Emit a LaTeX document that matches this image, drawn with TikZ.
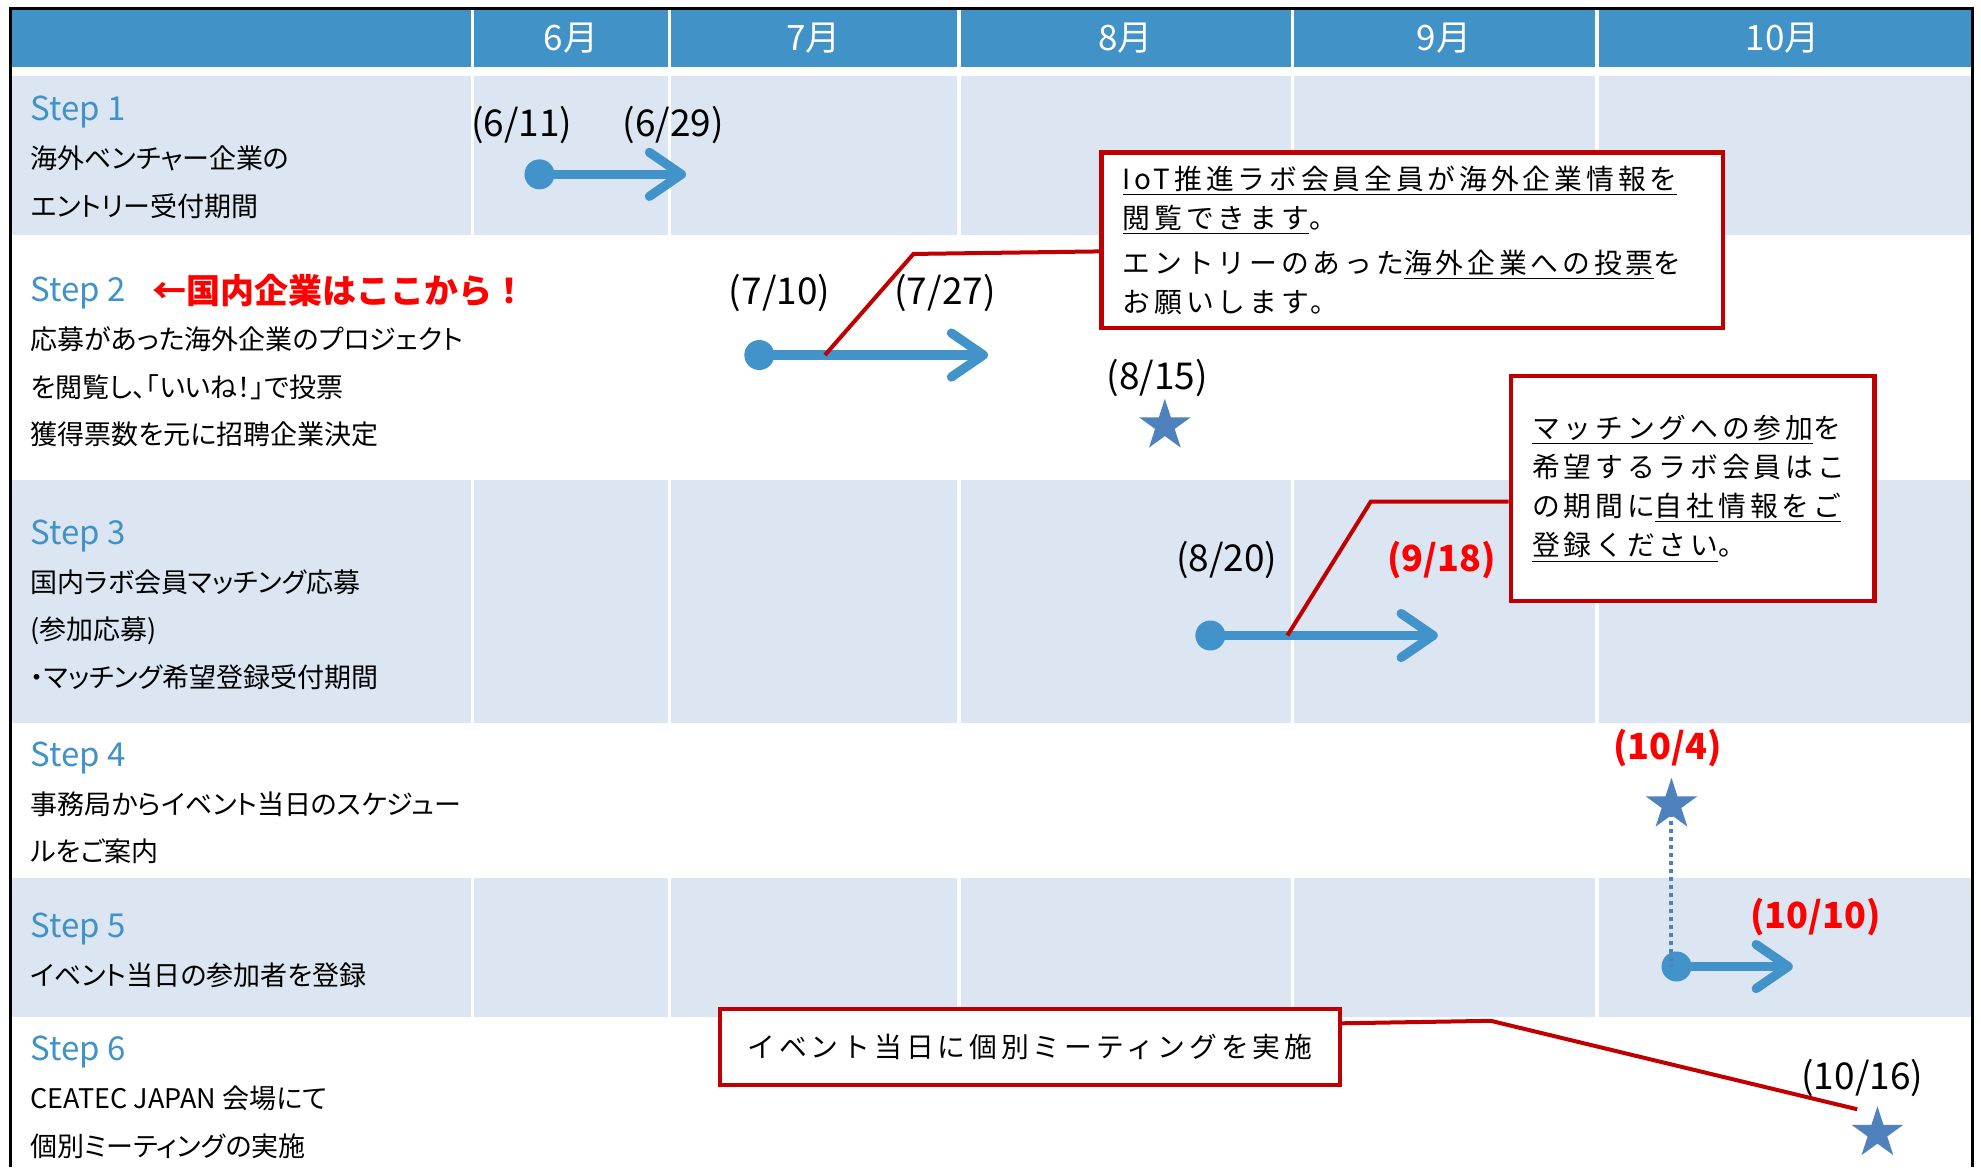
\documentclass[tikz,border=0pt]{standalone}
\usepackage{fontspec}
\setmainfont{Noto Sans CJK JP}
\newfontfamily\bodyjp{Noto Sans CJK JP}[RawFeature=+palt]
\newfontfamily\boxjp{Noto Sans CJK JP}[LetterSpace=14]
\usepackage{tikz}
\usetikzlibrary{positioning,arrows.meta,shapes.geometric}

\definecolor{hdrblue}{RGB}{65,146,199}
\definecolor{rowblue}{RGB}{220,230,242}
\definecolor{arrblue}{RGB}{65,147,201}
\definecolor{starblue}{RGB}{79,129,189}
\definecolor{boxred}{RGB}{192,0,0}
\definecolor{txtred}{RGB}{255,0,0}
\newcommand{\steplbl}[1]{{\color{hdrblue}\fontsize{16.5pt}{23.8pt}\selectfont #1}}

\begin{document}
\begin{tikzpicture}[x=0.6317pt,y=-0.6317pt,
	month/.style={text=white,inner sep=0pt,font=\fontsize{17.5pt}{19pt}\selectfont},
	stepbox/.style={anchor=base west,align=left,inner sep=0pt,font=\bodyjp\fontsize{13.5pt}{23.8pt}\selectfont},
	date/.style={inner sep=0pt,font=\fontsize{18.5pt}{20pt}\selectfont},
	reddate/.style={inner sep=0pt,text=txtred,font=\bfseries\fontsize{18pt}{20pt}\selectfont},
	dotmark/.style={circle,fill=arrblue,minimum size=15pt,inner sep=0pt},
	period/.style={draw=arrblue,line width=4.6pt,-{Straight Barb[length=16pt,width=22pt,round]}},
	event/.style={star,star points=5,star point ratio=2.618,fill=starblue,minimum size=27pt,inner sep=0pt},
	callout/.style={draw=boxred,line width=2.2pt,fill=white,align=left,anchor=north west,inner ysep=0pt,inner xsep=10.7pt,font=\boxjp\fontsize{13.9pt}{19.6pt}\selectfont},
	pointer/.style={draw=boxred,line width=2pt}]
			\useasboundingbox (0,0) rectangle (1568,924);
			\fill[hdrblue] (9,7) rectangle (1561,53);
			\fill[rowblue] (9,60) rectangle (1561,186);
			\fill[rowblue] (9,380) rectangle (1561,572);
			\fill[rowblue] (9,695) rectangle (1561,805);
			\foreach \x in {374,530,759,1023,1264}
				\draw[white,line width=1.6pt] (\x,7) -- (\x,924);
			\draw[line width=1.5pt] (8,924) |- (1561,7) -- (1561,924);

			\node[month] (m6) at (452,30) {6月};
			\node[month] (m7) at (644,30) {7月};
			\node[month] (m8) at (891,30) {8月};
			\node[month] (m9) at (1143,30) {9月};
			\node[month] (m10) at (1411,30) {10月};

			\node[stepbox] (step1) at (24,171) {\steplbl{Step 1}\\海外ベンチャー企業の\\エントリー受付期間};
			\node[stepbox] (step2) at (24,352) {\steplbl{Step 2}\\応募があった海外企業のプロジェクト\\を閲覧し、「いいね！」で投票\\獲得票数を元に招聘企業決定};
			\node[anchor=base west,inner sep=0pt,text=txtred,font=\bfseries\fontsize{17pt}{20pt}\selectfont] (here) at (120,240) {←国内企業はここから！};
			\node[stepbox] (step3) at (24,544) {\steplbl{Step 3}\\国内ラボ会員マッチング応募\\(参加応募)\\・マッチング希望登録受付期間};
			\node[stepbox] (step4) at (24,682) {\steplbl{Step 4}\\事務局からイベント当日のスケジュー\\ルをご案内};
			\node[stepbox] (step5) at (24,780) {\steplbl{Step 5}\\イベント当日の参加者を登録};
			\node[stepbox] (step6) at (24,915) {\steplbl{Step 6}\\CEATEC JAPAN 会場にて\\個別ミーティングの実施};

			\node[date] (d611) at (413,99) {(6/11)};
			\node[date] (d629) at (533,99) {(6/29)};
			\node[date] (d710) at (617,232) {(7/10)};
			\node[date] (d727) at (748,232) {(7/27)};
			\node[date] (d815) at (916,299) {(8/15)};
			\node[date] (d820) at (971,443) {(8/20)};
			\node[reddate] (d918) at (1141,443) {(9/18)};
			\node[reddate] (d104) at (1320,592) {(10/4)};
			\node[reddate] (d1010) at (1437,726) {(10/10)};
			\node[date] (d1016) at (1474,853) {(10/16)};

			\node[dotmark] (s1a) at (427,138) {};
			\coordinate (s1b) at (543,138);
			\draw[period] (s1a.center) -- (s1b);
			\node[dotmark] (s2a) at (601,281) {};
			\coordinate (s2b) at (782,281);
			\draw[period] (s2a.center) -- (s2b);
			\node[dotmark] (s3a) at (958,503) {};
			\coordinate (s3b) at (1138,503);
			\draw[period] (s3a.center) -- (s3b);
			\node[dotmark] (s5a) at (1327,765) {};
			\coordinate (s5b) at (1419,765);
			\draw[period] (s5a.center) -- (s5b);

			\node[event] (st2) at (922,337) {};
			\node[event] (st4) at (1323,637) {};
			\node[event] (st6) at (1486,897) {};
			\draw[starblue,line width=2pt,dash pattern=on 2pt off 2pt] (st4.center) -- (st4.center |- s5a.center);

			\coordinate (p2) at (653,281);
			\coordinate (p3) at (1019,503);
			\coordinate (p6) at (1470,878);
			\draw[pointer] (870,199) -- ++(-147,2) -- (p2);
			\draw[pointer] (1194,397) -- ++(-109,0) -- (p3);
			\draw[pointer] (1059,810) -- ++(121,-2) -- (p6);

			\node[callout,text width=289.4pt,minimum height=87.8pt] (cb1) at (870,119) {\underline{IoT推進ラボ会員全員が海外企業情報を}\\\underline{閲覧できます}。\\[3pt]エントリーのあった\underline{海外企業への投票}を\\お願いします。};
			\node[callout,text width=160.5pt,minimum height=112.4pt] (cb2) at (1194,296) {\underline{マッチングへの参加}を\\希望するラボ会員はこ\\の期間に\underline{自社情報をご}\\\underline{登録ください}。};
			\node[callout,align=center,text width=288.8pt,minimum height=37.9pt] (cb3) at (568,797) {イベント当日に個別ミーティングを実施};
		\end{tikzpicture}
\end{document}
